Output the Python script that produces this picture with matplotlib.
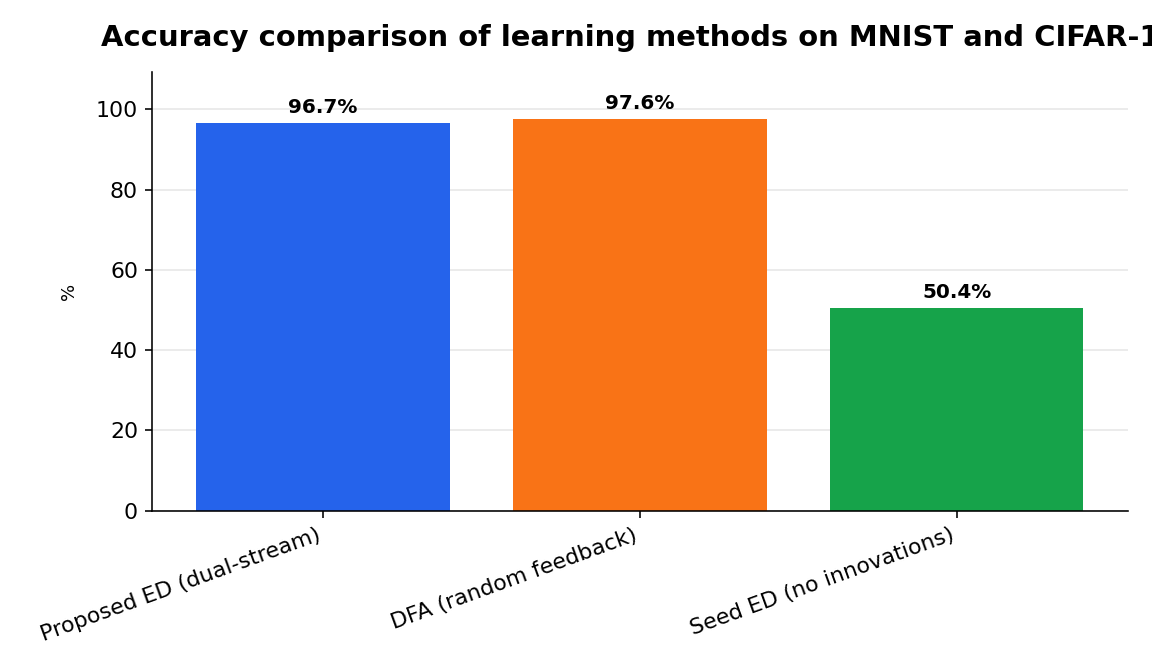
import matplotlib
matplotlib.use("Agg")
import matplotlib.pyplot as plt

methods = ["Proposed ED (dual-stream)", "DFA (random feedback)", "Seed ED (no innovations)"]
accuracy = [96.7, 97.6, 50.4]
colors = ["#2563eb", "#f97316", "#16a34a"]

fig, ax = plt.subplots(figsize=(8, 672 / 144), dpi=144)
fig.subplots_adjust(left=0.132, right=0.979, top=0.893, bottom=0.240)

x = list(range(len(methods)))
ax.bar(x, accuracy, color=colors, width=0.8, zorder=2)
for xi, v in zip(x, accuracy):
    ax.text(xi, v + 1.5, f"{v:.1f}%", ha="center", va="bottom",
            fontsize=10, fontweight="bold")

ax.set_ylim(0, max(accuracy) * 1.12)
ax.set_xticks(x)
ax.set_xticklabels(methods, rotation=20, ha="right", fontsize=11)
ax.tick_params(axis="y", labelsize=11)
ax.set_ylabel("%", fontsize=9, labelpad=9)
ax.set_title("Accuracy comparison of learning methods on MNIST and CIFAR-10",
             fontsize=14.5, fontweight="bold", pad=13)
ax.grid(axis="y", alpha=0.3, zorder=0)
ax.set_axisbelow(True)
for s in ["top", "right"]:
    ax.spines[s].set_visible(False)

fig.savefig("out.png", dpi=144)
